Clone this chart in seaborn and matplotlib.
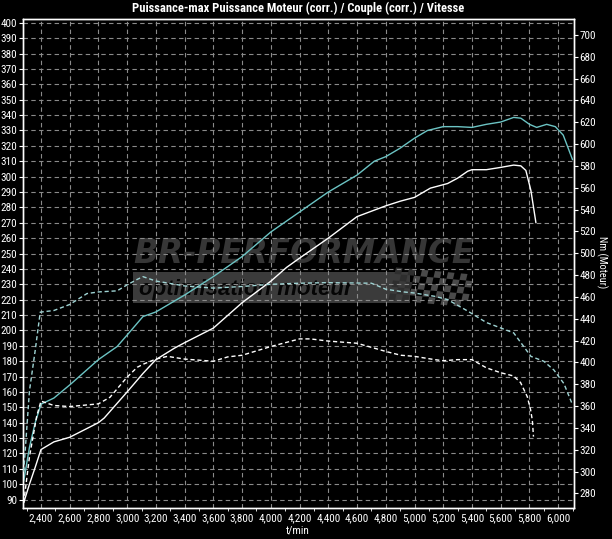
import matplotlib
matplotlib.use("Agg")
import matplotlib.pyplot as plt
import seaborn as sns
from matplotlib import font_manager
from matplotlib.patches import Rectangle, Polygon
from matplotlib.ticker import FuncFormatter, MultipleLocator, FixedLocator

# ---------------- data ----------------
title = "Puissance-max Puissance Moteur (corr.) / Couple (corr.) / Vitesse"
x_label = "t/min"
right_label = "Nm (Moteur)"
watermark_main = "BR-PERFORMANCE"
watermark_sub = "optimisation moteur"

# tuned power (PS, left axis)
rpm_pw_tuned = [2280, 2320, 2360, 2400, 2490, 2600, 2800, 2930, 3000, 3110,
                3200, 3400, 3600, 3800, 4000, 4200, 4400, 4600, 4720, 4800,
                4900, 5000, 5090, 5200, 5300, 5400, 5500, 5600, 5690, 5740,
                5800, 5850, 5920, 5980, 6035, 6100]
pw_tuned = [102, 124, 140, 152, 156, 164.5, 181, 189.5, 197, 209,
            212, 223, 235, 248, 264, 277, 290, 301, 310, 313,
            318.5, 325, 330, 332.5, 332.5, 332, 334, 335.5, 338.5, 338,
            334, 332, 334, 332.5, 327, 311]

# stock power (PS, left axis)
rpm_pw_stock = [2280, 2320, 2360, 2400, 2490, 2600, 2800, 2840, 3000, 3110,
                3200, 3330, 3400, 3600, 3800, 4000, 4110, 4200, 4400, 4600,
                4700, 4800, 4900, 5000, 5110, 5230, 5300, 5370, 5400, 5500,
                5600, 5690, 5740, 5775, 5810, 5845]
pw_stock = [88, 100, 111, 122.5, 127.5, 130.5, 140, 143, 160, 172,
            181, 188.5, 192, 201.5, 218, 232, 241, 247, 260, 274,
            277.5, 281, 284, 286.5, 292.5, 295.5, 299, 303.5, 304.5, 304.5,
            306, 307.5, 307, 304, 291, 270]

# tuned torque (Nm, right axis)
rpm_tq_tuned = [2280, 2320, 2360, 2395, 2490, 2600, 2720, 2800, 2930, 3000,
                3070, 3110, 3200, 3400, 3600, 3800, 4000, 4200, 4400, 4700,
                4800, 4925, 5000, 5140, 5230, 5370, 5500, 5690, 5760, 5810,
                5900, 5970, 6040, 6100]
tq_tuned = [300, 374, 411, 446, 447.5, 453, 463, 464.5, 465.5, 471,
            476, 478.5, 474.5, 470, 468, 469.5, 471.5, 472.5, 473, 472.5,
            467, 464.5, 463.5, 460.5, 457.5, 447, 436.5, 427, 414.5, 405.5,
            401, 393, 380.5, 361]

# stock torque (Nm, right axis)
rpm_tq_stock = [2280, 2320, 2370, 2400, 2490, 2600, 2800, 2880, 3000, 3070,
                3115, 3200, 3280, 3400, 3600, 3700, 3800, 4000, 4200, 4275,
                4400, 4600, 4800, 4905, 5000, 5140, 5200, 5300, 5400, 5500,
                5600, 5690, 5738, 5785, 5808, 5820, 5828]
tq_stock = [271.5, 313.5, 350.5, 364.5, 360.5, 359.5, 362, 368, 386.5, 395.5,
            398.5, 403, 405.5, 403, 401, 405, 406.5, 414.5, 421.5, 421.5,
            419.5, 417.5, 410, 406.5, 405.5, 402.5, 401.5, 402.5, 402.5, 395,
            390.5, 387.5, 381.5, 368.5, 356.5, 347, 332]

x_ticks = list(range(2400, 6001, 200))
left_ticks = list(range(90, 401, 10))
right_ticks = list(range(280, 701, 20))

# ---------------- style ----------------
sns.set_style("dark", {"axes.facecolor": "black", "figure.facecolor": "black"})
names = {f.name for f in font_manager.fontManager.ttflist}
narrow = None
for cand in ["Liberation Sans Narrow", "Roboto Condensed", "Open Sans Condensed",
             "Noto Sans Condensed", "DejaVu Sans Condensed"]:
    if cand in names:
        narrow = cand
        break
is_narrow = narrow in ("Liberation Sans Narrow", "Roboto Condensed",
                       "Open Sans Condensed", "Noto Sans Condensed")
if narrow is None:
    narrow = "Liberation Sans"
plt.rcParams["font.family"] = [narrow, "DejaVu Sans"]
plt.rcParams["text.color"] = "white"
tick_size = 8 if is_narrow else 6.8
title_size = 9 if is_narrow else 8

W, H = 612, 539
def fx(px):
    return px / W
def fy(py):
    return 1 - py / H

fig = plt.figure(figsize=(W / 100, H / 100), dpi=100, facecolor="black")
ax = fig.add_axes([fx(23), fy(508), fx(574) - fx(23), fy(19) - fy(508)])
ax.set_facecolor("black")
ax2 = ax.twinx()
ax2.patch.set_visible(False)

cyan = "#6cc4c4"
cyan_d = "#9fd4d4"
dash = (0, (3, 2))

sns.lineplot(x=rpm_pw_tuned, y=pw_tuned, ax=ax, color=cyan, lw=1.0, zorder=3)
sns.lineplot(x=rpm_pw_stock, y=pw_stock, ax=ax, color="white", lw=1.0, zorder=3)
sns.lineplot(x=rpm_tq_tuned, y=tq_tuned, ax=ax2, color=cyan_d, lw=1.0, linestyle=dash, zorder=3)
sns.lineplot(x=rpm_tq_stock, y=tq_stock, ax=ax2, color="white", lw=1.0, linestyle=dash, zorder=3)

ax.set_xlim(2275, 6110)
ax.set_ylim(84.5, 402.5)
ax2.set_ylim(266.6, 714.5)

ax.xaxis.set_major_locator(FixedLocator(x_ticks))
ax.xaxis.set_minor_locator(MultipleLocator(100))
ax.xaxis.set_major_formatter(FuncFormatter(lambda v, p: f"{int(v):,}"))
ax.yaxis.set_major_locator(FixedLocator(left_ticks))
ax2.yaxis.set_major_locator(FixedLocator(right_ticks))

ax.set_axisbelow(True)
ax.grid(True, which="major", color="#8a8a8a", linestyle=(0, (4, 3)), linewidth=0.8)
ax2.grid(False)

for a in (ax, ax2):
    for s in a.spines.values():
        s.set_visible(True)
        s.set_color("white")
        s.set_linewidth(1.0)
    a.tick_params(colors="white", labelsize=tick_size, length=3, width=0.8,
                  direction="out", pad=1.0)
    a.set_xlabel("")
    a.set_ylabel("")
ax.tick_params(axis="x", which="minor", length=2, color="white", bottom=True)
ax.tick_params(axis="x", which="major", pad=0.5)

# ---------------- watermark ----------------
ax.text(fx(133), fy(263), watermark_main, transform=fig.transFigure,
        fontsize=23.5, fontweight="bold", fontstyle="italic", family="DejaVu Sans",
        color="#363636", ha="left", va="baseline", zorder=0.2)
ax.add_patch(Rectangle((fx(133), fy(303)), fx(410) - fx(133), fy(272) - fy(303),
                       transform=fig.transFigure, facecolor="#3b3b3b", edgecolor="none",
                       zorder=0.1))
ax.text(fx(139), fy(295), watermark_sub, transform=fig.transFigure,
        fontsize=16, fontweight="bold", fontstyle="italic", family="Liberation Sans",
        color="#050505", ha="left", va="baseline", zorder=0.25)
# checkered flag
s = 6.5
for i in range(5):
    for j in range(12):
        if (i + j) % 2 == 0:
            x0 = 396 + j * s - i * 1.5
            y0 = 271 + i * s + (j - 6) * 0.6
            poly = [(fx(x0), fy(y0)), (fx(x0 + s), fy(y0 + 0.6)),
                    (fx(x0 + s - 1.5), fy(y0 + s + 0.6)), (fx(x0 - 1.5), fy(y0 + s))]
            shade = "#4a4a4a" if j > 2 else "#2e2e2e"
            ax.add_patch(Polygon(poly, closed=True, transform=fig.transFigure,
                                 facecolor=shade, edgecolor="none", zorder=0.15))

# ---------------- texts ----------------
fig.text(fx(298), fy(8), title, ha="center", va="center", color="white",
         fontsize=title_size, fontweight="bold")
fig.text(fx(298), fy(531), x_label, ha="center", va="center", color="white",
         fontsize=tick_size)
fig.text(fx(602), fy(262), right_label, ha="center", va="center", color="white",
         fontsize=7.5, rotation=270)

fig.savefig("out.png", dpi=100, facecolor="black")
